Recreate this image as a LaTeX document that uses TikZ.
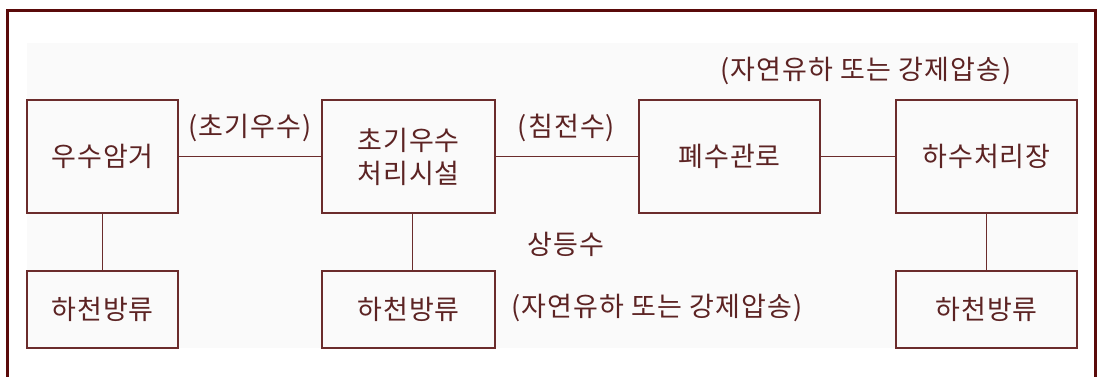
\documentclass[tikz,border=0pt]{standalone}
\usepackage{fontspec}
\setmainfont[LetterSpace=4]{Noto Sans CJK KR}
\definecolor{frame}{HTML}{5A0A0A}
\definecolor{ln}{HTML}{6B2C2C}
\definecolor{txt}{HTML}{5C2323}
\definecolor{bg}{HTML}{FAFAFA}
\begin{document}
\begin{tikzpicture}[x=1pt,y=-1pt,
  box/.style={draw=ln,line width=1.6pt,fill=bg,text=txt,inner sep=0pt,align=center,
    font=\fontsize{27}{33}\selectfont},
  lbl/.style={text=txt,inner sep=0pt,font=\fontsize{27}{30}\selectfont},
  conn/.style={draw=ln,line width=1.6pt}]
\useasboundingbox (0,0) rectangle (1097,376);
\begin{scope}
\clip (0,0) rectangle (1097,376);
\draw[frame,line width=3pt] (7.5,400) -- (7.5,10) -- (1095.5,10) -- (1095.5,400);
\end{scope}
\fill[bg] (27,43) rectangle (1078,348);
% top row
\node[box,minimum width=151pt,minimum height=113pt] (a) at (102.5,156.5) {우수암거};
\node[box,minimum width=173pt,minimum height=113pt] (b) at (408.5,156.5) {초기우수\\처리시설};
\node[box,minimum width=181pt,minimum height=113pt] (c) at (729.5,156.5) {폐수관로};
\node[box,minimum width=181pt,minimum height=113pt] (d) at (986.5,156.5) {하수처리장};
% bottom row
\node[box,minimum width=151pt,minimum height=77pt] (a2) at (102.5,309.5) {하천방류};
\node[box,minimum width=173pt,minimum height=77pt] (b2) at (408.5,309.5) {하천방류};
\node[box,minimum width=181pt,minimum height=77pt] (d2) at (986.5,309.5) {하천방류};
% connectors
\draw[conn] (a.east) -- (b.west);
\draw[conn] (b.east) -- (c.west);
\draw[conn] (c.east) -- (d.west);
\draw[conn] (a.south) -- (a2.north);
\draw[conn] ([xshift=4pt]b.south) -- ([xshift=4pt]b2.north);
\draw[conn] (d.south) -- (d2.north);
% labels
\node[lbl] (l1) at (250,128) {(초기우수)};
\node[lbl] (l2) at (566.5,128) {(침전수)};
\node[lbl] (l3) at (866,71) {(자연유하 또는 강제압송)};
\node[lbl] (l4) at (566,244) {상등수};
\node[lbl] (l5) at (657,308) {(자연유하 또는 강제압송)};
\end{tikzpicture}
\end{document}
